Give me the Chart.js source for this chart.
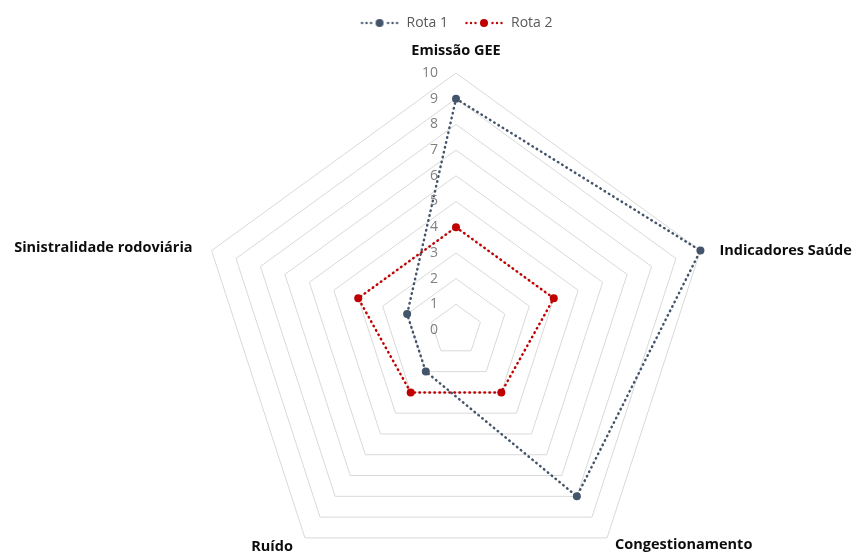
<!DOCTYPE html>
<html>
<head>
<meta charset="utf-8">
<script src="https://cdn.jsdelivr.net/npm/chart.js@4"></script>
<style>
  body { margin: 0; background: #fff; }
  canvas { display: block; }
</style>
</head>
<body>
<canvas id="radar-chart" width="852" height="554"></canvas>
<script>
'use strict'

// dados
const categories = ['Emissão GEE', 'Indicadores Saúde', 'Congestionamento', 'Ruído', 'Sinistralidade rodoviária'];
const rota1 = [9, 10, 8, 2, 2];
const rota2 = [4, 4, 3, 3, 4];
const seriesNames = ['Rota 1', 'Rota 2'];
const tickMin = 0;
const tickMax = 10;
const tickStep = 1;

// posição dos rótulos em relação ao vértice exterior
const labelPlace = [
  { align: 'center', dx: 0, dy: -22 },
  { align: 'left', dx: 19, dy: 0 },
  { align: 'left', dx: 8, dy: 7 },
  { align: 'right', dx: -12, dy: 9 },
  { align: 'right', dx: -19, dy: -3 }
];

const colors = ['#44546A', '#C00000'];

// marcador da legenda: linha pontilhada com ponto
function legendMarker(color) {
  const c = document.createElement('canvas');
  c.width = 40;
  c.height = 10;
  const g = c.getContext('2d');
  g.fillStyle = color;
  [2.5, 7, 11.5, 28.5, 33, 37.5].forEach(function (x) {
    g.beginPath();
    g.arc(x, 5, 1.2, 0, Math.PI * 2);
    g.fill();
  });
  g.beginPath();
  g.arc(20, 5, 4, 0, Math.PI * 2);
  g.fill();
  return c;
}

const labelsPlugin = {
  id: 'radarLabels',
  afterDraw(chart) {
    const scale = chart.scales.r;
    const ctx = chart.ctx;
    ctx.save();
    // valores do eixo
    ctx.font = '14px "Open Sans"';
    ctx.fillStyle = '#808080';
    ctx.textAlign = 'right';
    ctx.textBaseline = 'middle';
    scale.ticks.forEach(function (t) {
      const y = scale.yCenter - scale.getDistanceFromCenterForValue(t.value);
      ctx.fillText(t.label, scale.xCenter - 18, y);
    });
    // categorias
    ctx.font = 'bold 14.5px "Open Sans"';
    ctx.fillStyle = '#0d0d0d';
    categories.forEach(function (name, i) {
      const p = scale.getPointPosition(i, scale.drawingArea);
      const s = labelPlace[i];
      ctx.textAlign = s.align;
      ctx.fillText(name, p.x + s.dx, p.y + s.dy);
    });
    ctx.restore();
  }
};

const series = [rota1, rota2];

var context = document.querySelector('#radar-chart').getContext('2d');
new Chart(context, {
  type: 'radar',
  data: {
    labels: categories,
    datasets: series.map(function (values, i) {
      return {
        label: seriesNames[i],
        data: values,
        borderColor: colors[i],
        backgroundColor: colors[i],
        borderWidth: 2.5,
        borderDash: [0.5, 4.5],
        borderCapStyle: 'round',
        fill: false,
        pointRadius: 4,
        pointHoverRadius: 4,
        pointBorderWidth: 0,
        pointBackgroundColor: colors[i],
        pointStyle: 'circle',
        clip: false
      };
    })
  },
  options: {
    responsive: false,
    animation: false,
    layout: {
      padding: { left: 199, right: 139, top: 0, bottom: 0 }
    },
    scales: {
      r: {
        min: tickMin,
        max: tickMax,
        ticks: { display: false, stepSize: tickStep },
        grid: { color: '#d9d9d9', lineWidth: 1 },
        angleLines: { display: false },
        pointLabels: { display: false },
        // raio pela largura; os rótulos de baixo ficam na margem inferior
        afterSetDimensions: function (scale) {
          scale.drawingArea = Math.floor(scale.width / 2);
          scale.yCenter = scale.bottom - Math.round(scale.drawingArea * 0.87);
        }
      }
    },
    plugins: {
      legend: {
        position: 'top',
        labels: {
          usePointStyle: true,
          pointStyleWidth: 40,
          padding: 16,
          color: '#595959',
          font: { family: 'Open Sans', size: 14 },
          generateLabels: function (chart) {
            return chart.data.datasets.map(function (ds, i) {
              return {
                text: ds.label,
                pointStyle: legendMarker(colors[i]),
                fillStyle: colors[i],
                strokeStyle: colors[i],
                lineWidth: 0,
                fontColor: '#595959',
                datasetIndex: i,
                hidden: false
              };
            });
          }
        }
      },
      tooltip: { enabled: false }
    }
  },
  plugins: [labelsPlugin]
});
</script>
</body>
</html>
